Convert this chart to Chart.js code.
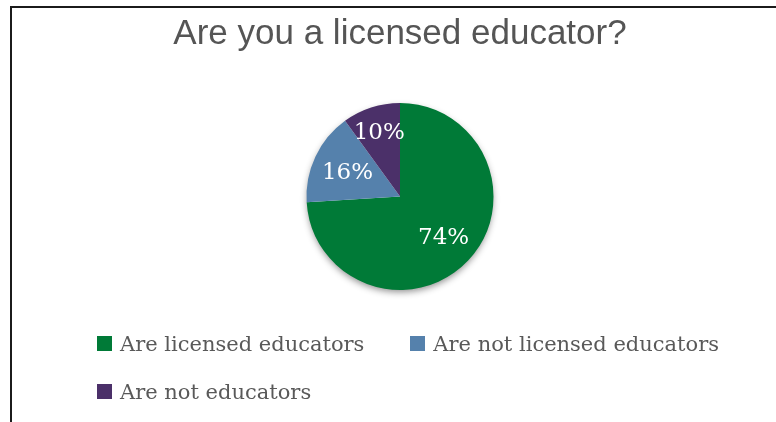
<!DOCTYPE html>
<html>
<head>
<meta charset="utf-8">
<script src="https://cdn.jsdelivr.net/npm/chart.js@4.4.1/dist/chart.umd.min.js"></script>
<style>
  html, body { margin: 0; padding: 0; width: 776px; height: 422px; overflow: hidden; background: #fff; }
  #frame { position: absolute; left: 10px; top: 6px; width: 800px; height: 430px;
           border-top: 2px solid #1b1b1b; border-left: 2px solid #1b1b1b; }
  #wrap { position: absolute; left: 12px; top: 9px; width: 776px; height: 413px; }
  #legend { position: absolute; left: 97px; top: 332px; width: 680px;
            display: flex; flex-wrap: wrap; row-gap: 25px; column-gap: 46px; }
  .item { display: flex; align-items: center; height: 23px;
          font-family: "DejaVu Serif", serif; font-size: 21px; color: #595959; white-space: nowrap; }
  .box { width: 15px; height: 15px; margin-right: 8px; flex: none; }
</style>
</head>
<body>
<div id="frame"></div>
<div id="wrap"><canvas id="pieChart" width="776" height="413"></canvas></div>
<div id="legend"></div>

<script>
// chart data
const categories = ["Are licensed educators", "Are not licensed educators", "Are not educators"];
const percents = [74, 16, 10];
const sliceColors = ["#007a37", "#5581ac", "#4b3069"];
const labelSpot = [0.64, 0.62, 0.72]; // label distance, fraction of radius

// soft shadow under the whole pie
const pieShadow = {
  id: "pieShadow",
  beforeDatasetsDraw(chart) {
    const arc = chart.getDatasetMeta(0).data[0];
    if (!arc) return;
    const ctx = chart.ctx;
    ctx.save();
    ctx.shadowColor = "rgba(0,0,0,0.45)";
    ctx.shadowBlur = 7;
    ctx.shadowOffsetY = 3;
    ctx.fillStyle = "#fff";
    ctx.beginPath();
    ctx.arc(arc.x, arc.y, arc.outerRadius - 1, 0, Math.PI * 2);
    ctx.fill();
    ctx.restore();
  }
};

// white percent labels inside the slices
const sliceLabels = {
  id: "sliceLabels",
  afterDatasetsDraw(chart) {
    const ctx = chart.ctx;
    const meta = chart.getDatasetMeta(0);
    ctx.save();
    ctx.fillStyle = "#ffffff";
    ctx.font = "23px 'DejaVu Serif'";
    ctx.textAlign = "center";
    ctx.textBaseline = "middle";
    meta.data.forEach((arc, i) => {
      const p = arc.getProps(["x", "y", "startAngle", "endAngle", "outerRadius"], true);
      const mid = (p.startAngle + p.endAngle) / 2;
      const r = p.outerRadius * labelSpot[i];
      ctx.fillText(percents[i] + "%", p.x + Math.cos(mid) * r, p.y + Math.sin(mid) * r + 1);
    });
    ctx.restore();
  }
};

// html legend from the chart's own legend items
const htmlLegend = {
  id: "htmlLegend",
  afterUpdate(chart) {
    const box = document.getElementById("legend");
    box.innerHTML = "";
    const items = chart.options.plugins.legend.labels.generateLabels(chart);
    items.forEach(it => {
      const el = document.createElement("div");
      el.className = "item";
      const sw = document.createElement("span");
      sw.className = "box";
      sw.style.background = it.fillStyle;
      el.appendChild(sw);
      el.appendChild(document.createTextNode(it.text));
      box.appendChild(el);
    });
  }
};

const ctx = document.getElementById("pieChart").getContext("2d");
new Chart(ctx, {
  type: "pie",
  data: {
    labels: categories,
    datasets: [{
      data: percents,
      backgroundColor: sliceColors,
      borderWidth: 0
    }]
  },
  options: {
    responsive: false,
    animation: false,
    layout: { padding: { top: 0, bottom: 132, left: 0, right: 0 } },
    plugins: {
      legend: { display: false },
      tooltip: { enabled: false },
      title: {
        display: true,
        text: "Are you a licensed educator?",
        color: "#555555",
        font: { family: "'Liberation Sans', Arial, sans-serif", size: 35, weight: "normal", lineHeight: 1.2 },
        padding: { top: 4.5, bottom: 47.5 }
      }
    }
  },
  plugins: [pieShadow, sliceLabels, htmlLegend]
});
</script>
</body>
</html>
